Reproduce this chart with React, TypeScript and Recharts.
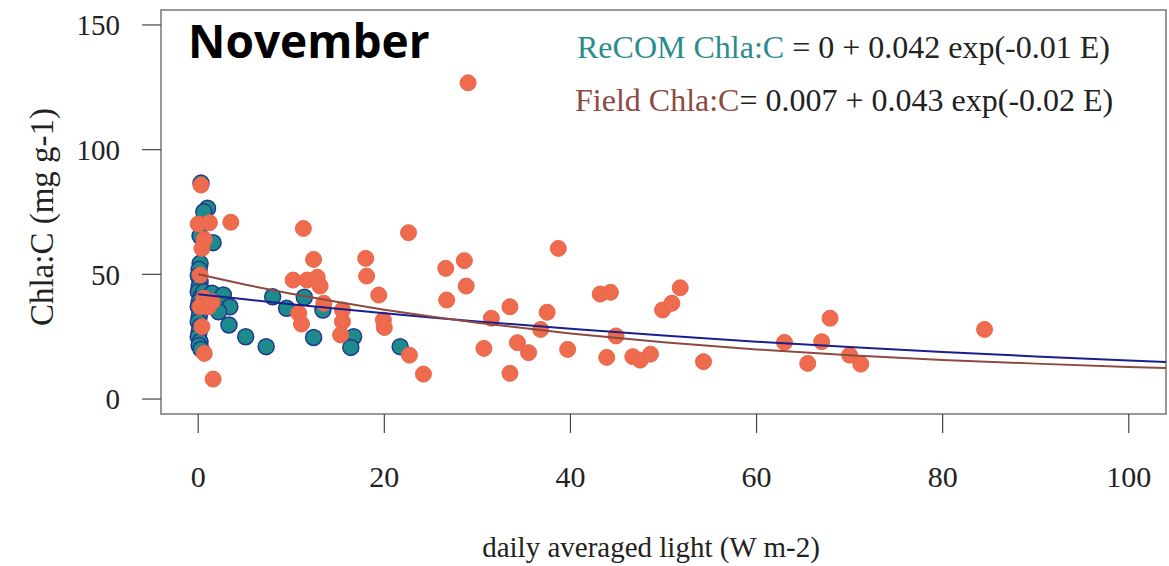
import React from "react";
import { ScatterChart, Scatter, XAxis, YAxis, ReferenceArea, Label } from "recharts";

// ReCOM model points (light, Chla:C)
const recomLight = [0.3, 1.0, 0.6, 0.2, 1.6, 0.2, 0.1, 0.0, 0.2, 0.1, 0.0, 0.3, 0.1, 0.0, 0.2, 0.1, 0.0, 0.2, 0.1, 0.0, 0.2, 0.1, 0.3, 0.6, 0.8, 1.5, 2.7, 3.4, 2.2, 3.3, 5.1, 7.3, 8.0, 9.5, 11.4, 13.4, 12.4, 16.7, 16.4, 21.7];
const recomChl = [86.6, 76.5, 75.1, 65.4, 62.7, 54.4, 52, 49.5, 47, 45, 43, 41, 39, 37, 35, 33, 31, 29, 27, 25, 23, 21.5, 20, 43, 39, 42.4, 41.7, 37.0, 35.0, 29.7, 25.0, 21.0, 41.0, 36.4, 40.8, 35.7, 24.7, 25.0, 20.7, 21.0];

// Field observations
const fieldLight = [0.3, 0.0, 1.2, 3.5, 0.65, 0.4, 0.2, 0.6, 1.1, 0.2, 1.5, 0.4, 0.65, 1.6, 11.3, 22.6, 12.4, 18.0, 18.1, 10.2, 11.7, 12.8, 13.1, 19.4, 26.6, 28.6, 28.8, 26.7, 13.5, 10.8, 11.1, 15.5, 15.5, 15.3, 19.9, 20.0, 22.7, 24.2, 29.0, 38.7, 31.5, 33.5, 30.7, 34.3, 35.5, 33.5, 37.5, 36.8, 39.7, 43.2, 44.3, 44.9, 43.9, 46.7, 47.5, 48.6, 49.9, 50.9, 51.8, 54.3, 63.0, 65.5, 67.0, 67.9, 70.0, 71.2, 84.5];
const fieldChl = [85.8, 70.2, 70.7, 70.9, 64.0, 60.4, 49.7, 40.4, 37.0, 37.0, 39, 29.0, 18.3, 8.0, 68.4, 66.7, 56.0, 56.4, 49.3, 47.7, 47.7, 48.8, 45.3, 41.7, 52.4, 55.5, 45.3, 39.7, 38.4, 34.4, 30.1, 35.7, 31.0, 25.7, 31.7, 28.7, 17.6, 10.0, 126.8, 60.4, 32.4, 37.0, 20.3, 22.6, 18.6, 10.3, 34.8, 27.9, 19.9, 42.1, 42.8, 25.3, 16.7, 17.0, 15.6, 18.0, 35.7, 38.4, 44.6, 15.0, 22.7, 14.3, 23.0, 32.4, 17.6, 14.0, 27.9];

// fitted curves
const fitLight = [0, 5, 10, 15, 20, 25, 30, 40, 50, 60, 70, 80, 90, 100, 104];
const recomFit = [42.0, 40.0, 38.0, 36.2, 34.4, 32.7, 31.1, 28.2, 25.5, 23.0, 20.9, 18.9, 17.1, 15.5, 14.9];
const fieldFit = [50.0, 45.9, 42.2, 38.9, 35.8, 33.1, 30.6, 26.3, 22.8, 19.9, 17.6, 15.7, 14.2, 12.8, 12.4];

const xTicks = [0, 20, 40, 60, 80, 100];
const yTicks = [0, 50, 100, 150];

const serif = "'Liberation Serif', 'Times New Roman', serif";

const zip = (xs: number[], ys: number[]) => xs.map((x, i) => ({ x, y: ys[i] }));

const recomPts = zip(recomLight, recomChl);
const fieldPts = zip(fieldLight, fieldChl);
const recomLine = zip(fitLight, recomFit);
const fieldLine = zip(fitLight, fieldFit);

const TealDot = (p: any) => <circle cx={p.cx} cy={p.cy} r={8} fill="#1d8a8b" stroke="#22398f" strokeWidth={1.5} />;
const OrangeDot = (p: any) => <circle cx={p.cx} cy={p.cy} r={8} fill="#ee6b4e" stroke="#e9674a" strokeWidth={1} />;
const NoDot = () => <g />;

export default function App() {
  return (
    <div style={{ position: "absolute", left: 0, top: 0, width: 1169, height: 566, background: "#fff" }}>
      <ScatterChart width={1169} height={566} margin={{ top: 10, right: 3, bottom: 0, left: 0 }}>
        <XAxis
          type="number"
          dataKey="x"
          domain={[-4, 104]}
          ticks={xTicks}
          allowDataOverflow
          interval={0}
          height={152}
          tickSize={19}
          tickMargin={33}
          axisLine={false}
          tickLine={{ stroke: "#444", strokeWidth: 1.2 }}
          tick={{ fill: "#222", fontSize: 30, fontFamily: serif }}
        >
          <Label
            content={() => (
              <text x={651} y={557} textAnchor="middle" fontSize={29} fontFamily={serif} fill="#222">
                daily averaged light (W m-2)
              </text>
            )}
          />
        </XAxis>
        <YAxis
          type="number"
          dataKey="y"
          domain={[-6, 156]}
          ticks={yTicks}
          allowDataOverflow
          interval={0}
          width={161}
          tickSize={19}
          tickMargin={22}
          axisLine={false}
          tickLine={{ stroke: "#444", strokeWidth: 1.2 }}
          tick={{ fill: "#222", fontSize: 29, fontFamily: serif }}
        >
          <Label
            content={() => (
              <text x={0} y={0} transform="translate(53 217) rotate(-90)" textAnchor="middle" fontSize={33} fontFamily={serif} fill="#222">
                Chla:C (mg g-1)
              </text>
            )}
          />
        </YAxis>
        <ReferenceArea x1={-4} x2={104} y1={-6} y2={156} fill="none" stroke="#777" strokeWidth={1.5} ifOverflow="visible" />
        <Scatter data={recomPts} shape={TealDot} isAnimationActive={false} />
        <Scatter data={fieldPts} shape={OrangeDot} isAnimationActive={false} />
        <Scatter data={recomLine} shape={NoDot} line={{ stroke: "#1a1f8f", strokeWidth: 2 }} lineType="joint" isAnimationActive={false} />
        <Scatter data={fieldLine} shape={NoDot} line={{ stroke: "#8c4a40", strokeWidth: 2 }} lineType="joint" isAnimationActive={false} />
      </ScatterChart>
      <svg width={1169} height={566} style={{ position: "absolute", left: 0, top: 0, pointerEvents: "none" }}>
        <text x={188} y={58} fontSize={46} fontWeight={700} fontFamily="'Open Sans', sans-serif" fill="#000">
          November
        </text>
        <text x={577} y={58} fontSize={32} fontFamily={serif} fill="#222">
          <tspan fill="#2b8c8c">ReCOM Chla:C</tspan>
          <tspan> = 0 + 0.042 exp(-0.01 E)</tspan>
        </text>
        <text x={575} y={111} fontSize={32} fontFamily={serif} fill="#222">
          <tspan fill="#8b4a42">Field Chla:C</tspan>
          <tspan>= 0.007 + 0.043 exp(-0.02 E)</tspan>
        </text>
      </svg>
    </div>
  );
}
